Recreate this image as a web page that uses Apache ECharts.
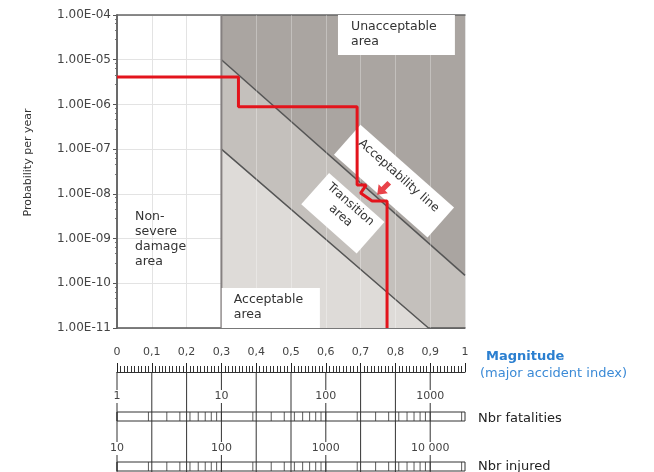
<!DOCTYPE html>
<html>
<head>
<meta charset="utf-8">
<script src="https://cdn.jsdelivr.net/npm/echarts@6/dist/echarts.min.js"></script>
<style>
html, body { margin: 0; padding: 0; background: #fff; }
#chart { width: 654px; height: 472px; }
</style>
</head>
<body>
<div id="chart"></div>
<script>
// 刻度标签
const xTickLabels = ['0', '0,1', '0,2', '0,3', '0,4', '0,5', '0,6', '0,7', '0,8', '0,9', '1'];
const yTickLabels = ['1.00E-11', '1.00E-10', '1.00E-09', '1.00E-08', '1.00E-07', '1.00E-06', '1.00E-05', '1.00E-04'];
const fatalityTicks = [1, 10, 100, 1000];
const fatalityLabels = ['1', '10', '100', '1000'];
const injuredTicks = [10, 100, 1000, 10000];
const injuredLabels = ['10', '100', '1000', '10 000'];

// 网格线位置 (灰色区域上的浅色线)
const gridX = [0.4, 0.5, 0.6, 0.7, 0.8, 0.9];
const gridY = [1e-10, 1e-9, 1e-8, 1e-7, 1e-6, 1e-5];

// 对数标尺上的小刻度
const fatalityMarks = [1, 2, 3, 4, 5, 6, 7, 8, 9, 10, 20, 30, 40, 50, 60, 70, 80, 90,
  100, 200, 300, 400, 500, 600, 700, 800, 900, 1000, 2000];
const injuredMarks = [10, 20, 30, 40, 50, 60, 70, 80, 90, 100, 200, 300, 400, 500, 600, 700, 800, 900,
  1000, 2000, 3000, 4000, 5000, 6000, 7000, 8000, 9000, 10000, 20000];
const rulerLines = [0, 0.1, 0.2, 0.3, 0.4, 0.5, 0.6, 0.7, 0.8, 0.9];

// 区域边界 (magnitude, probability)
const areaTop = [[0.3, 1e-4], [1, 1e-4]];
const lowerLine = [[0.3, 1e-7], [0.895, 1e-11], [1, 1e-11]];
const upperLine = [[0.3, 1e-5], [1, 1.5e-10]];
const severeLimit = [[0.3, 1e-11], [0.3, 1e-4]];

// 红色阶梯线
const redX = [0, 0.349, 0.349, 0.69, 0.69, 0.716, 0.7, 0.733, 0.776, 0.776];
const redY = [4.1e-6, 4.1e-6, 8.9e-7, 8.9e-7, 1.57e-8, 1.57e-8, 1.04e-8, 6.9e-9, 6.9e-9, 1e-11];
const arrowPoint = [[0.765, 1.3e-8]];

const FONT = 'DejaVu Sans';
const GL = 117, GR = 189;

const chart = echarts.init(document.getElementById('chart'));

function decadeLabel(ticks, labels) {
  return function (v) {
    const i = ticks.indexOf(Math.round(v));
    return i >= 0 ? labels[i] : '';
  };
}

const whiteGrid = gridX.map(x => ({ xAxis: x })).concat(gridY.map(y => ({ yAxis: y })));

const option = {
  animation: false,
  textStyle: { fontFamily: FONT },
  grid: [
    { left: GL, right: GR, top: 15, height: 313 },   // 主图
    { left: GL, right: GR, top: 363, height: 9 },    // magnitude 标尺
    { left: GL, right: GR, top: 372, height: 100 },  // 竖线
    { left: GL, right: GR, top: 412, height: 9, show: true, borderColor: '#333', borderWidth: 1 },
    { left: GL, right: GR, top: 462, height: 9, show: true, borderColor: '#333', borderWidth: 1 }
  ],
  xAxis: [
    {
      gridIndex: 0, type: 'value', min: 0, max: 1, interval: 0.1,
      axisLine: { lineStyle: { color: '#555', width: 1.5 } },
      axisTick: { show: false },
      axisLabel: { margin: 19, color: '#444', fontSize: 11, formatter: v => xTickLabels[Math.round(v * 10)] },
      splitLine: { show: true, lineStyle: { color: '#e3e3e3' } }
    },
    {
      gridIndex: 0, type: 'value', min: 0, max: 1, position: 'top', z: 3,
      axisLine: { show: true, lineStyle: { color: '#666', width: 1.5 } },
      axisTick: { show: false }, axisLabel: { show: false }, splitLine: { show: false }
    },
    {
      gridIndex: 1, type: 'value', min: 0, max: 1, interval: 0.1,
      axisLine: { lineStyle: { color: '#333', width: 1 } },
      axisTick: { inside: true, length: 9, lineStyle: { color: '#222' } },
      minorTick: { show: true, splitNumber: 10, length: 6, lineStyle: { color: '#333' } },
      axisLabel: { show: false }, splitLine: { show: false }
    },
    { gridIndex: 2, type: 'value', min: 0, max: 1, show: false },
    {
      gridIndex: 3, type: 'log', logBase: 10, min: 1, max: 2154.43, position: 'top', z: 5,
      axisLine: { show: false }, axisTick: { show: false }, splitLine: { show: false },
      axisLabel: { margin: 9, color: '#444', fontSize: 11, backgroundColor: '#fff', padding: [1, 2],
        formatter: decadeLabel(fatalityTicks, fatalityLabels) }
    },
    {
      gridIndex: 4, type: 'log', logBase: 10, min: 10, max: 21544.3, position: 'top', z: 5,
      axisLine: { show: false }, axisTick: { show: false }, splitLine: { show: false },
      axisLabel: { margin: 7, color: '#444', fontSize: 11, backgroundColor: '#fff', padding: [1, 2],
        formatter: decadeLabel(injuredTicks, injuredLabels) }
    }
  ],
  yAxis: [
    {
      gridIndex: 0, type: 'log', logBase: 10, min: 1e-11, max: 1e-4,
      name: 'Probability per year', nameLocation: 'middle', nameGap: 83,
      nameTextStyle: { fontSize: 11, color: '#333', padding: [0, 0, 0, 18] },
      axisLine: { show: true, lineStyle: { color: '#555', width: 1.5 } },
      axisTick: { show: true, length: 4, lineStyle: { color: '#555' } },
      minorTick: { show: true, splitNumber: 5, length: 2, lineStyle: { color: '#777' } },
      axisLabel: { margin: 6, color: '#444', fontSize: 12,
        formatter: v => yTickLabels[Math.round(Math.log10(v)) + 11] },
      splitLine: { show: true, lineStyle: { color: '#e3e3e3' } }
    },
    {
      gridIndex: 0, type: 'log', logBase: 10, min: 1e-11, max: 1e-4, position: 'right', z: 3,
      axisLine: { show: true, lineStyle: { color: '#666', width: 1.5 } },
      axisTick: { show: false }, axisLabel: { show: false }, splitLine: { show: false }
    },
    { gridIndex: 1, type: 'value', min: 0, max: 1, show: false },
    { gridIndex: 2, type: 'value', min: 0, max: 1, show: false },
    { gridIndex: 3, type: 'value', min: 0, max: 1, show: false },
    { gridIndex: 4, type: 'value', min: 0, max: 1, show: false }
  ],
  series: [
    {
      name: 'acceptable', type: 'line', data: areaTop, symbol: 'none',
      lineStyle: { width: 0 }, areaStyle: { color: '#dedbd8', opacity: 1, origin: 'start' }
    },
    {
      name: 'transition', type: 'line', data: lowerLine, symbol: 'none',
      lineStyle: { color: '#555', width: 1.5 }, areaStyle: { color: '#c4c0bc', opacity: 1, origin: 'end' }
    },
    {
      name: 'unacceptable', type: 'line', data: upperLine, symbol: 'none',
      lineStyle: { color: '#555', width: 1.5 }, areaStyle: { color: '#aaa5a1', opacity: 1, origin: 'end' }
    },
    {
      name: 'limit', type: 'line', data: severeLimit, symbol: 'none',
      lineStyle: { color: '#858080', width: 2 },
      markLine: {
        silent: true, symbol: 'none', label: { show: false }, z: 4,
        lineStyle: { color: 'rgba(255,255,255,0.3)', width: 1, type: 'solid' },
        data: whiteGrid
      }
    },
    {
      name: 'risk', type: 'line', data: redX.map((x, i) => [x, redY[i]]), symbol: 'none', z: 8,
      lineStyle: { color: '#e3141c', width: 3 }
    },
    {
      name: 'arrow', type: 'scatter', data: arrowPoint, z: 9,
      symbol: 'path://M0,5 L6,0 L6,3 L12,3 L12,7 L6,7 L6,10 Z',
      symbolSize: [17, 13], symbolRotate: 45, itemStyle: { color: '#e3141c' }
    },
    {
      name: 'rulerLines', type: 'bar', xAxisIndex: 3, yAxisIndex: 3,
      data: rulerLines.map(x => [x, 1]), barWidth: 1, itemStyle: { color: '#333' }
    },
    {
      name: 'fatalities', type: 'scatter', xAxisIndex: 4, yAxisIndex: 4,
      data: fatalityMarks.map(v => [v, 0.5]), symbol: 'rect', symbolSize: [1, 9],
      itemStyle: { color: '#333' }
    },
    {
      name: 'injured', type: 'scatter', xAxisIndex: 5, yAxisIndex: 5,
      data: injuredMarks.map(v => [v, 0.5]), symbol: 'rect', symbolSize: [1, 9],
      itemStyle: { color: '#333' }
    }
  ]
};

chart.setOption(option);

// 注释框, 由数据坐标换算到像素
function px(x, y) {
  return chart.convertToPixel({ gridIndex: 0 }, [x, y]);
}
const a0 = px(upperLine[0][0], upperLine[0][1]);
const a1 = px(upperLine[1][0], upperLine[1][1]);
const rot = -Math.atan2(a1[1] - a0[1], a1[0] - a0[0]);

function textStyle(text, size, extra) {
  return Object.assign({ text: text, fill: '#333', fontSize: size, fontFamily: FONT, lineHeight: 15 }, extra || {});
}

function flatBox(p0, p1, text, padX, padY) {
  return {
    type: 'group',
    children: [
      { type: 'rect', z: 6, shape: { x: p0[0], y: p0[1], width: p1[0] - p0[0], height: p1[1] - p0[1] }, style: { fill: '#fff' } },
      { type: 'text', z: 7, x: p0[0] + padX, y: p0[1] + padY, style: textStyle(text, 12.5, { align: 'left', verticalAlign: 'top' }) }
    ]
  };
}

function rotBox(c, w, h, text, ty) {
  return {
    type: 'group', x: c[0], y: c[1], rotation: rot,
    children: [
      { type: 'rect', z: 6, shape: { x: -w / 2, y: -h / 2, width: w, height: h }, style: { fill: '#fff' } },
      { type: 'text', z: 7, x: 0, y: ty, style: textStyle(text, 12, { align: 'center', verticalAlign: 'middle', lineHeight: 15 }) }
    ]
  };
}

chart.setOption({
  graphic: [
    flatBox(px(0.635, 1e-4), px(0.971, 1.27e-5), 'Unacceptable\narea', 13, 4),
    flatBox(px(0.301, 7.8e-11), px(0.583, 1e-11), 'Acceptable\narea', 12, 4),
    { type: 'text', z: 7, x: px(0.052, 1)[0], y: px(0.052, 4.6e-9)[1],
      style: textStyle('Non-\nsevere\ndamage\narea', 12.5, { align: 'left', verticalAlign: 'top' }) },
    rotBox(px(0.796, 1.93e-8), 125, 40, 'Acceptability line', -7),
    rotBox(px(0.649, 3.7e-9), 74, 42, 'Transition\narea', -4),
    { type: 'text', z: 7, left: 486, top: 350,
      style: { text: 'Magnitude', fill: '#2b7fd0', fontSize: 13, fontWeight: 'bold', fontFamily: FONT } },
    { type: 'text', z: 7, left: 480, top: 367,
      style: { text: '(major accident index)', fill: '#3b8ad6', fontSize: 13, fontFamily: FONT } },
    { type: 'text', z: 7, left: 478, top: 412,
      style: { text: 'Nbr fatalities', fill: '#222', fontSize: 13, fontFamily: FONT } },
    { type: 'text', z: 7, left: 478, top: 460,
      style: { text: 'Nbr injured', fill: '#222', fontSize: 13, fontFamily: FONT } }
  ]
});
</script>
</body>
</html>
